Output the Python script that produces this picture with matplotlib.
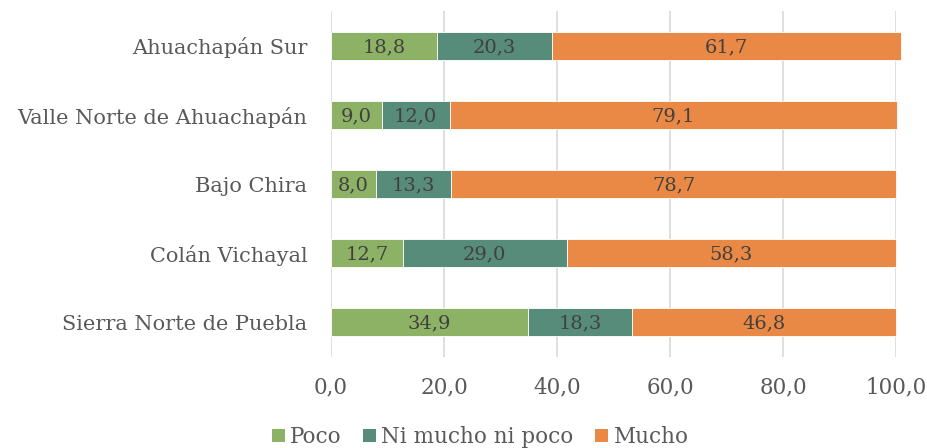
import matplotlib
matplotlib.use("Agg")
import matplotlib.pyplot as plt
from matplotlib.patches import Patch

categories = ["Ahuachapán Sur", "Valle Norte de Ahuachapán", "Bajo Chira",
              "Colán Vichayal", "Sierra Norte de Puebla"]
poco = [18.8, 9.0, 8.0, 12.7, 34.9]
ni = [20.3, 12.0, 13.3, 29.0, 18.3]
mucho = [61.7, 79.1, 78.7, 58.3, 46.8]
series_names = ["Poco", "Ni mucho ni poco", "Mucho"]
xticks = [0, 20, 40, 60, 80, 100]

colors = ["#8DB265", "#568C79", "#EA8946"]
plt.rcParams["font.family"] = ["DejaVu Serif"]

fig = plt.figure(figsize=(9.28, 4.48), dpi=100)
ax = fig.add_axes([331/928, 1-356.5/448, (896-331)/928, 345/448])

ypos = list(range(len(categories)))[::-1]
left = [0]*len(categories)
for vals, col in zip([poco, ni, mucho], colors):
    bars = ax.barh(ypos, vals, left=left, height=0.41, color=col,
                   edgecolor="white", linewidth=0.6, clip_on=False, zorder=3)
    for b, v, l in zip(bars, vals, left):
        ax.text(l + v/2, b.get_y() + b.get_height()/2 - 0.02,
                f"{v:.1f}".replace(".", ","), ha="center", va="center",
                fontsize=14, color="#404040", zorder=4)
    left = [a+b for a, b in zip(left, vals)]

ax.set_xlim(0, 100)
ax.set_ylim(-0.5, 4.5)
ax.set_yticks(ypos)
ax.set_yticklabels(categories, fontsize=15, color="#595959")
ax.set_xticks(xticks)
ax.set_xticklabels([f"{t:.1f}".replace(".", ",") for t in xticks],
                   fontsize=15.5, color="#595959")
ax.tick_params(axis="y", length=0, pad=17)
ax.tick_params(axis="x", length=0, pad=14)
ax.grid(axis="x", color="#D9D9D9", linewidth=1.2, zorder=0)
for s in ax.spines.values():
    s.set_visible(False)

handles = [Patch(facecolor=c, edgecolor="none") for c in colors]
fig.legend(handles, series_names, loc="center", bbox_to_anchor=(480/928, 1-437/448),
           ncol=3, frameon=False, fontsize=15.5, handlelength=0.6, handleheight=0.6,
           handletextpad=0.25, columnspacing=1.0, labelcolor="#595959")

fig.savefig("out.png", dpi=100, facecolor="white")
